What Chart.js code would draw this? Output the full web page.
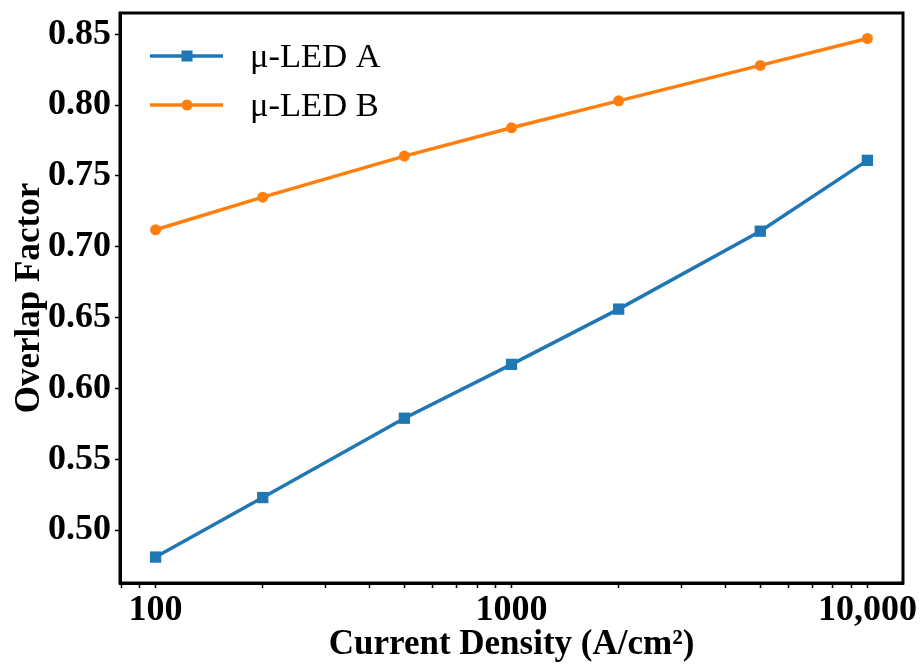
<!DOCTYPE html>
<html>
<head>
<meta charset="utf-8">
<script src="https://cdn.jsdelivr.net/npm/chart.js@4/dist/chart.umd.min.js"></script>
<style>
  html, body { margin: 0; padding: 0; background: #fff; }
  #wrap { width: 921px; height: 664px; }
</style>
</head>
<body>
<div id="wrap"><canvas id="myChart" width="921" height="664"></canvas></div>
<script>
// current density (A/cm^2) and overlap factor per device
const densities = [100, 200, 500, 1000, 2000, 5000, 10000];
const ledA = [0.481, 0.523, 0.579, 0.617, 0.656, 0.711, 0.761];
const ledB = [0.712, 0.735, 0.764, 0.784, 0.803, 0.828, 0.847];
const seriesNames = ['\u03bc-LED A', '\u03bc-LED B'];
const yTicks = [0.50, 0.55, 0.60, 0.65, 0.70, 0.75, 0.80, 0.85];
const xMajor = [100, 1000, 10000];
const xTickText = ['100', '1000', '10,000'];

const blue = '#1f77b4', orange = '#ff7f0e';
const serifBold = { family: 'Liberation Serif', weight: 'bold', size: 36 };

function pairs(ys) {
    return densities.map((x, i) => ({ x: x, y: ys[i] }));
}

// box around the plot area
const frame = {
    id: 'frame',
    afterDraw(chart) {
        const a = chart.chartArea, c = chart.ctx;
        c.save();
        c.strokeStyle = '#000';
        c.lineWidth = 3;
        c.strokeRect(a.left, a.top, a.right - a.left, a.bottom - a.top);
        c.restore();
    }
};

// legend with line + marker, like the data
const lineLegend = {
    id: 'lineLegend',
    afterDraw(chart) {
        const c = chart.ctx;
        const rows = [56, 105];
        c.save();
        chart.data.datasets.forEach((ds, i) => {
            const y = rows[i];
            c.strokeStyle = ds.borderColor;
            c.lineWidth = ds.borderWidth;
            c.beginPath();
            c.moveTo(150, y);
            c.lineTo(223, y);
            c.stroke();
            c.fillStyle = ds.backgroundColor;
            if (ds.pointStyle === 'rect') {
                c.fillRect(181.5, y - 5.5, 11, 11);
            } else {
                c.beginPath();
                c.arc(187, y, 5.5, 0, Math.PI * 2);
                c.fill();
            }
            c.fillStyle = '#000';
            c.font = '34.5px "Liberation Serif"';
            c.textBaseline = 'middle';
            c.fillText(ds.label, 250, y + 2);
        });
        c.restore();
    }
};

const ctx = document.getElementById('myChart').getContext('2d');
const myChart = new Chart(ctx, {
    type: 'line',
    data: {
        datasets: [{
            label: seriesNames[0],
            data: pairs(ledA),
            borderColor: blue,
            backgroundColor: blue,
            borderWidth: 3.5,
            pointStyle: 'rect',
            pointRadius: 8,
            pointBorderWidth: 0
        }, {
            label: seriesNames[1],
            data: pairs(ledB),
            borderColor: orange,
            backgroundColor: orange,
            borderWidth: 3.5,
            pointStyle: 'circle',
            pointRadius: 5.5,
            pointBorderWidth: 0
        }]
    },
    options: {
        responsive: false,
        animation: false,
        layout: { padding: { top: 13, right: 18, left: 0, bottom: 0 } },
        plugins: { legend: { display: false }, tooltip: { enabled: false } },
        scales: {
            x: {
                type: 'logarithmic',
                min: 79.43,
                max: 12589,
                afterBuildTicks(scale) {
                    const t = [{ value: 80 }, { value: 90 }];
                    for (let d = 100; d <= 10000; d *= 10) {
                        for (let k = 1; k <= 9; k++) {
                            const v = d * k;
                            if (v <= 12589) t.push({ value: v });
                        }
                    }
                    scale.ticks = t;
                },
                afterFit(scale) { scale.height = 81; },
                grid: { display: true, drawOnChartArea: false, drawTicks: true, tickLength: 5, tickWidth: 1.5, tickColor: '#000' },
                border: { display: true, color: '#000', width: 3 },
                ticks: {
                    autoSkip: false,
                    maxRotation: 0,
                    color: '#000',
                    font: serifBold,
                    padding: 1,
                    callback(v) {
                        const i = xMajor.indexOf(v);
                        return i >= 0 ? xTickText[i] : '';
                    }
                },
                title: {
                    display: true,
                    text: 'Current Density (A/cm\u00b2)',
                    color: '#000',
                    font: { family: 'Liberation Serif', weight: 'bold', size: 35, lineHeight: 1.1 },
                    padding: { top: 0, bottom: 0 }
                }
            },
            y: {
                min: 0.4627,
                max: 0.865,
                afterBuildTicks(scale) {
                    scale.ticks = yTicks.map(v => ({ value: v }));
                },
                afterFit(scale) {
                    scale.width = 120;
                    scale.paddingTop = 0;
                    scale.paddingBottom = 0;
                },
                grid: { display: true, drawOnChartArea: false, drawTicks: true, tickLength: 5, tickWidth: 1.5, tickColor: '#000' },
                border: { display: true, color: '#000', width: 3 },
                ticks: {
                    color: '#000',
                    font: serifBold,
                    padding: 4,
                    callback: v => v.toFixed(2)
                },
                title: {
                    display: true,
                    text: 'Overlap Factor',
                    color: '#000',
                    font: { family: 'Liberation Serif', weight: 'bold', size: 35, lineHeight: 1.1 },
                    padding: { top: 11, bottom: 0 }
                }
            }
        }
    },
    plugins: [frame, lineLegend]
});
</script>
</body>
</html>
